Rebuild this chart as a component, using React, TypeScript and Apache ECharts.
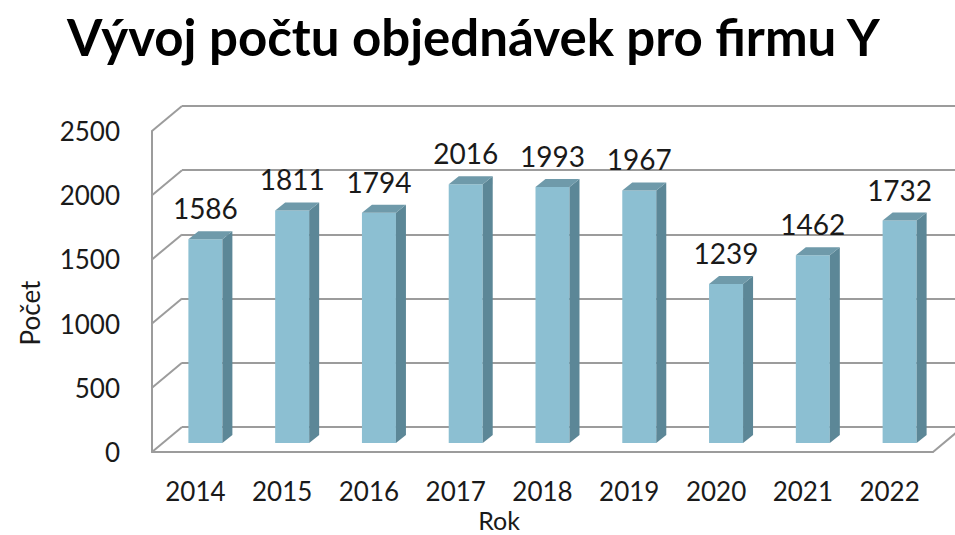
import React, { useEffect, useRef } from "react";
import * as echarts from "echarts";

const years = ["2014", "2015", "2016", "2017", "2018", "2019", "2020", "2021", "2022"];
const orders = [1586, 1811, 1794, 2016, 1993, 1967, 1239, 1462, 1732];
const yTicks = [0, 500, 1000, 1500, 2000, 2500];
const titleText = "Vývoj počtu objednávek pro firmu Y";
const xName = "Rok";
const yName = "Počet";

const FONT = "Lato";
const GRID_COLOR = "#9c9c9c";
const DEPTH_X = 30;
const DEPTH_Y = -25;

export default function App() {
  const ref = useRef<HTMLDivElement>(null);
  useEffect(() => {
    if (!ref.current) return;
    const chart = echarts.init(ref.current, undefined, { renderer: "svg" });
    const option: any = {
      animation: false,
      backgroundColor: "#ffffff",
      title: {
        text: titleText,
        left: 62,
        top: 6,
        textStyle: { fontFamily: FONT, fontWeight: "bold", fontSize: 51, color: "#000" },
      },
      grid: [
        { left: 182, top: 106, width: 781, height: 321 },
        { left: 152, top: 131, width: 781, height: 321 },
      ],
      xAxis: [
        { gridIndex: 0, type: "category", data: years, show: false },
        {
          gridIndex: 1,
          type: "category",
          data: years,
          axisLine: { lineStyle: { color: GRID_COLOR, width: 2 } },
          axisTick: { show: false },
          axisLabel: { fontFamily: FONT, fontSize: 26, color: "#1a1a1a", margin: 26 },
        },
      ],
      yAxis: [
        {
          gridIndex: 0,
          type: "value",
          min: 0,
          max: 2500,
          interval: 500,
          axisLabel: { show: false },
          axisLine: { show: false },
          axisTick: { show: false },
          splitLine: { lineStyle: { color: GRID_COLOR, width: 2 } },
        },
        {
          gridIndex: 1,
          type: "value",
          min: 0,
          max: 2500,
          interval: 500,
          axisLine: { show: true, lineStyle: { color: GRID_COLOR, width: 2 } },
          axisTick: { show: false },
          splitLine: { show: false },
          axisLabel: {
            fontFamily: FONT,
            fontSize: 26,
            color: "#1a1a1a",
            margin: 32,
            padding: [0, 0, 4, 0],
            formatter: (v: number) => String(v),
          },
        },
      ],
      graphic: [
        {
          type: "text",
          x: 499,
          y: 520,
          style: {
            text: xName,
            fontFamily: FONT,
            fontSize: 25,
            fill: "#1a1a1a",
            align: "center",
            verticalAlign: "middle",
          },
        },
        {
          type: "text",
          x: 30,
          y: 313,
          rotation: Math.PI / 2,
          style: {
            text: yName,
            fontFamily: FONT,
            fontSize: 26,
            fill: "#1a1a1a",
            align: "center",
            verticalAlign: "middle",
          },
        },
      ],
      series: [
        {
          type: "custom",
          name: "walls",
          xAxisIndex: 1,
          yAxisIndex: 1,
          silent: true,
          data: yTicks.map((v) => [0, v]),
          renderItem: (params: any, api: any) => {
            const v = api.value(1);
            const p = api.coord([0, v]);
            const band = api.size([1, 0])[0];
            const x = p[0] - band / 2;
            const children: any[] = [
              {
                type: "line",
                shape: { x1: x, y1: p[1], x2: x + DEPTH_X, y2: p[1] + DEPTH_Y },
                style: { stroke: GRID_COLOR, lineWidth: 2 },
              },
            ];
            if (v === 0) {
              const xr = x + band * years.length;
              children.push({
                type: "line",
                shape: { x1: xr, y1: p[1], x2: xr + DEPTH_X, y2: p[1] + DEPTH_Y },
                style: { stroke: GRID_COLOR, lineWidth: 2 },
              });
            }
            return { type: "group", children };
          },
        },
        {
          type: "custom",
          name: "Počet objednávek",
          xAxisIndex: 1,
          yAxisIndex: 1,
          data: orders.map((v, i) => [i, v]),
          renderItem: (params: any, api: any) => {
            const i = api.value(0);
            const v = api.value(1);
            const base = api.coord([i, 0]);
            const top = api.coord([i, v]);
            const offX = 10;
            const offY = -9;
            const w = 34;
            const dx = 10;
            const dy = -8;
            const cx = base[0] + offX;
            const x0 = cx - w / 2;
            const x1 = cx + w / 2;
            const yb = base[1] + offY;
            const yt = top[1] + offY;
            return {
              type: "group",
              children: [
                {
                  type: "rect",
                  shape: { x: x0, y: yt, width: w, height: yb - yt },
                  style: { fill: "#8cbfd2" },
                },
                {
                  type: "polygon",
                  shape: {
                    points: [
                      [x1, yt],
                      [x1 + dx, yt + dy],
                      [x1 + dx, yb + dy],
                      [x1, yb],
                    ],
                  },
                  style: { fill: "#5c8797" },
                },
                {
                  type: "polygon",
                  shape: {
                    points: [
                      [x0, yt],
                      [x0 + dx, yt + dy],
                      [x1 + dx, yt + dy],
                      [x1, yt],
                    ],
                  },
                  style: { fill: "#6f9aaa" },
                },
                {
                  type: "text",
                  style: {
                    text: String(v),
                    x: cx,
                    y: yt + dy - 23,
                    align: "center",
                    verticalAlign: "middle",
                    fontFamily: FONT,
                    fontSize: 28,
                    fill: "#1a1a1a",
                  },
                },
              ],
            };
          },
        },
      ],
    };
    chart.setOption(option);
    return () => chart.dispose();
  }, []);
  return (
    <div
      ref={ref}
      style={{ position: "fixed", left: 0, top: 0, width: 955, height: 535, background: "#fff" }}
    />
  );
}
